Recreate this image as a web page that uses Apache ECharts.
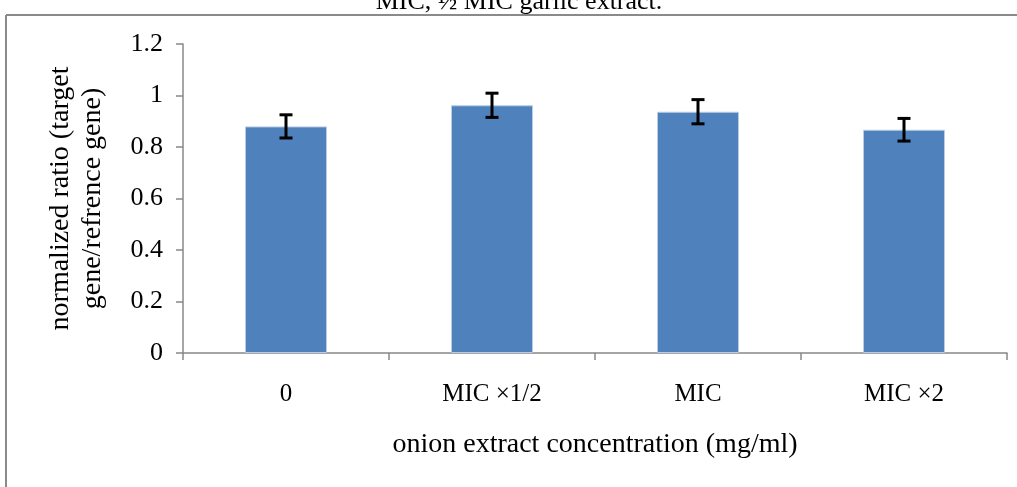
<!DOCTYPE html>
<html>
<head>
<meta charset="utf-8">
<script src="https://cdn.jsdelivr.net/npm/echarts@6/dist/echarts.min.js"></script>
<style>
html,body{margin:0;padding:0;background:#fff;}
#c{width:1017px;height:487px;}
</style>
</head>
<body>
<div id="c"></div>
<script>
const categories = ['0', 'MIC ×1/2', 'MIC', 'MIC ×2'];
const values = [0.88, 0.962, 0.937, 0.867];
const errors = [0.045, 0.047, 0.047, 0.044];
const yTicks = [0, 0.2, 0.4, 0.6, 0.8, 1, 1.2];
const titleText = 'MIC, ½ MIC garlic extract.';
const yName = 'normalized ratio (target\ngene/refrence gene)';
const xName = 'onion extract concentration (mg/ml)';

const FONT = '"Liberation Serif", "Times New Roman", serif';
const chart = echarts.init(document.getElementById('c'), null, {renderer: 'canvas'});

const errData = categories.map((c, i) => [i, values[i] - errors[i], values[i] + errors[i]]);

chart.setOption({
  animation: false,
  backgroundColor: '#fff',
  grid: {left: 183, right: 10, top: 44, bottom: 134, containLabel: false},
  graphic: [
    {type: 'text', x: 519, y: 15, z: 1, style: {text: titleText, font: '26px ' + FONT, fill: '#000', align: 'center', verticalAlign: 'bottom'}},
    {type: 'rect', shape: {x: 0, y: 15, width: 1017, height: 8}, z: 2, style: {fill: '#fff'}},
    {type: 'line', shape: {x1: 6, y1: 15, x2: 1017, y2: 15}, z: 3, style: {stroke: '#8a8a8a', lineWidth: 2}},
    {type: 'line', shape: {x1: 6, y1: 15, x2: 6, y2: 487}, z: 3, style: {stroke: '#8a8a8a', lineWidth: 2}}
  ],
  xAxis: {
    type: 'category',
    data: categories,
    name: xName,
    nameLocation: 'middle',
    nameGap: 78,
    nameTextStyle: {fontFamily: FONT, fontSize: 28, color: '#000'},
    axisLine: {lineStyle: {color: '#888', width: 1.5}},
    axisTick: {show: true, alignWithLabel: false, length: 7, lineStyle: {color: '#888', width: 1.5}},
    axisLabel: {fontFamily: FONT, fontSize: 25, color: '#000', margin: 29}
  },
  yAxis: {
    type: 'value',
    min: 0, max: 1.2, interval: 0.2,
    name: yName,
    nameLocation: 'middle',
    nameGap: 74,
    nameRotate: 90,
    nameTextStyle: {fontFamily: FONT, fontSize: 28, color: '#000', lineHeight: 32},
    axisLine: {show: true, lineStyle: {color: '#888', width: 1.5}},
    axisTick: {show: true, length: 7, lineStyle: {color: '#888', width: 1.5}},
    splitLine: {show: false},
    axisLabel: {fontFamily: FONT, fontSize: 26, color: '#000', margin: 20,
      formatter: v => { const t = yTicks.find(k => Math.abs(k - v) < 1e-9); return t === undefined ? '' : String(t); }}
  },
  series: [
    {
      type: 'bar',
      data: values,
      barWidth: 82,
      itemStyle: {color: '#4F81BD', borderColor: '#b9cde6', borderWidth: 1}
    },
    {
      type: 'custom',
      data: errData,
      z: 10,
      renderItem: function (params, api) {
        const x = api.value(0);
        const lo = api.coord([x, api.value(1)]);
        const hi = api.coord([x, api.value(2)]);
        const hw = 6.5;
        const st = {stroke: '#000', lineWidth: 3};
        return {
          type: 'group',
          children: [
            {type: 'line', shape: {x1: lo[0], y1: lo[1], x2: hi[0], y2: hi[1]}, style: st},
            {type: 'line', shape: {x1: lo[0] - hw, y1: lo[1], x2: lo[0] + hw, y2: lo[1]}, style: st},
            {type: 'line', shape: {x1: hi[0] - hw, y1: hi[1], x2: hi[0] + hw, y2: hi[1]}, style: st}
          ]
        };
      }
    }
  ]
});
</script>
</body>
</html>
